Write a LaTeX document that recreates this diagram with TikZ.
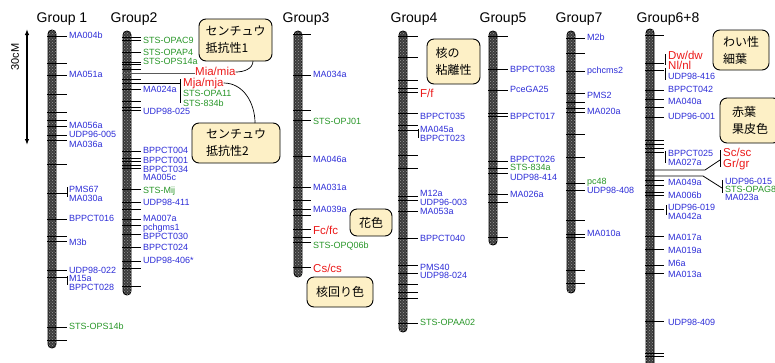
\documentclass[tikz,border=0pt]{standalone}
\usepackage{fontspec}
\setmainfont{Liberation Sans}
\newfontfamily\jp{Noto Sans CJK JP}
\usetikzlibrary{arrows.meta,patterns}
\definecolor{mblue}{RGB}{45,45,215}
\definecolor{mgreen}{RGB}{40,150,40}
\definecolor{mred}{RGB}{235,25,25}
\definecolor{cream}{RGB}{253,240,198}
\definecolor{chromfill}{RGB}{60,60,60}
\tikzset{
 chrom/.style={draw=black, fill=chromfill, line width=0.8pt, rounded corners=3.8pt},
 chromtex/.style={pattern=crosshatch dots, pattern color=gray!80, rounded corners=3.8pt},
 tick/.style={line width=0.8pt, black},
 mk/.style={anchor=west, inner sep=0pt, font=\fontsize{9}{9.5}\selectfont, text=mblue, text height=6pt, text depth=1.5pt},
 mkg/.style={mk, text=mgreen},
 trait/.style={anchor=west, inner sep=0pt, font=\fontsize{11.5}{12}\selectfont, text=mred, text height=8pt, text depth=2pt},
 grouptitle/.style={font=\fontsize{14}{15}\selectfont, inner sep=0pt},
 jbox/.style={draw=black, fill=cream, rounded corners=7pt, line width=0.9pt, font=\jp\fontsize{12}{17}\selectfont, align=left, inner sep=0pt},
 conn/.style={line width=0.7pt, black},
}
\newcommand{\chr}[3]{%
  \draw[chrom] (#1-4,#2) rectangle (#1+4,#3);
  \fill[chromtex] (#1-4,#2) rectangle (#1+4,#3);}
\begin{document}
\begin{tikzpicture}[x=1pt,y=-1pt]
\useasboundingbox (0,0) rectangle (775,362);

% scale bar
\draw[{Latex[length=6pt,width=4.5pt]}-{Latex[length=6pt,width=4.5pt]}, line width=1.3pt] (27,29) -- (27,145);
\node[rotate=90, font=\fontsize{11}{12}\selectfont, inner sep=0pt] (scale) at (15,57) {30cM};

% ===== Group 1 =====
\node[grouptitle] (t1) at (62,19) {Group 1};
\chr{52}{30}{348}
\foreach \y in {36,63,75,94,112,120,126,135,140,164,193,219,236,241,270,277,327,340}
  \draw[tick] (47,\y) -- (67,\y);
\draw[tick] (67,187) -- (67,197);
\draw[tick] (67,276) -- (67,285);
\foreach \y/\t in {36/MA004b,75/MA051a,126/MA056a,135/UDP96-005,145/MA036a,190/PMS67,199/MA030a,219/BPPCT016,243/M3b,271/UDP98-022,279/M15a,288/BPPCT028}
  \node[mk] (g1-\y) at (69,\y) {\t};
\node[mkg] (g1-327) at (69,327) {STS-OPS14b};

% ===== Group 2 =====
\node[grouptitle] (t2) at (134,19) {Group2};
\chr{127}{31}{295}
\foreach \y in {37,40,52,62,64,69,79,89,101,107,110,151,158,161,165,168,189,202,209,219,225,234,247,261,268,286}
  \draw[tick] (122,\y) -- (141,\y);
\draw[tick, gray!70!black] (122,73) -- (195,73);
\draw[tick] (122,83) -- (180,83);
\draw[tick] (180,79) -- (180,103);
\foreach \y/\t in {41/STS-OPAC9,53/STS-OPAP4,62/STS-OPS14a,191/STS-Mij}
  \node[mkg] (g2-\y) at (143,\y) {\t};
\foreach \y/\t in {90/MA024a,112/UDP98-025,151/BPPCT004,161/BPPCT001,170/BPPCT034,178/MA005c,203/UDP98-411,219/MA007a,228/pchgms1,237/BPPCT030,248/BPPCT024,261/UDP98-406*}
  \node[mk] (g2-\y) at (143,\y) {\t};
\node[trait] (mia) at (195,72) {Mia/mia};
\node[trait] (mja) at (183,83) {Mja/mja};
\node[mkg] (opa11) at (183,94) {STS-OPA11};
\node[mkg] (s834b) at (183,104) {STS-834b};
\node[jbox, minimum width=73pt, minimum height=42pt] (box1) at (235.5,40) {センチュウ\\抵抗性1};
\node[jbox, minimum width=88pt, minimum height=40pt] (box2) at (236,143) {センチュウ\\抵抗性2};
\coordinate (c1) at (253,61);
\coordinate (c2) at (255,123);
\draw[conn] (mia.east) to[out=0,in=-90] (c1);
\draw[conn] (mja.east) to[out=0,in=90] (c2);

% ===== Group 3 =====
\node[grouptitle] (t3) at (306,19) {Group3};
\chr{298}{31}{277}
\foreach \y in {34,75,110,120,156,187,200,209,215,229,237,242,267}
  \draw[tick] (293,\y) -- (311,\y);
\foreach \y/\t in {75/MA034a,160/MA046a,188/MA031a,210/MA039a}
  \node[mk] (g3-\y) at (313,\y) {\t};
\foreach \y/\t in {122/STS-OPJ01,246/STS-OPQ06b}
  \node[mkg] (g3-\y) at (313,\y) {\t};
\node[trait] (fc) at (313,231) {Fc/fc};
\node[trait] (cs) at (313,269) {Cs/cs};
\node[jbox, minimum width=42pt, minimum height=27pt] (box3) at (371,222.5) {花色};
\node[jbox, minimum width=66pt, minimum height=30pt] (box4) at (340,292) {核回り色};

% ===== Group 4 =====
\node[grouptitle] (t4) at (414,19) {Group4};
\chr{403}{31}{332}
\foreach \y in {36,57,80,88,92,113,125,130,155,168,196,200,211,238,265,273,284,292,298,323}
  \draw[tick] (398,\y) -- (418,\y);
\draw[tick] (418,129) -- (418,138);
\node[trait] (ff) at (420,94) {F/f};
\foreach \y/\t in {117/BPPCT035,130/MA045a,139/BPPCT023,194/M12a,203/UDP96-003,212/MA053a,239/BPPCT040,268/PMS40,276/UDP98-024}
  \node[mk] (g4-\y) at (420,\y) {\t};
\node[mkg] (g4-323) at (420,323) {STS-OPAA02};
\node[jbox, minimum width=53pt, minimum height=45pt] (box5) at (453.5,61.5) {核の\\粘離性};

% ===== Group 5 =====
\node[grouptitle] (t5) at (503,19) {Group5};
\chr{493}{31}{245}
\foreach \y in {36,69,90,113,116,161,168,173,194,202,237}
  \draw[tick] (488,\y) -- (508,\y);
\foreach \y/\t in {70/BPPCT038,90/PceGA25,117/BPPCT017,160/BPPCT026,178/UDP98-414,195/MA026a}
  \node[mk] (g5-\y) at (510,\y) {\t};
\node[mkg] (g5-168) at (510,168.7) {STS-834a};

% ===== Group 7 =====
\node[grouptitle] (t7) at (579,19) {Group7};
\chr{571}{31}{293}
\foreach \y in {38,53,71,93,102,108,112,134,157,183,190,220,234,237,270,283}
  \draw[tick] (566,\y) -- (585,\y);
\foreach \y/\t in {38/M2b,71/pchcms2,96/PMS2,112/MA020a,191/UDP98-408,234/MA010a}
  \node[mk] (g7-\y) at (587,\y) {\t};
\node[mkg] (g7-183) at (587,182) {pc48};

% ===== Group 6+8 =====
\node[grouptitle] (t68) at (668,19) {Group6+8};
\chr{650}{29}{375}
\foreach \y in {35,63,70,90,99,107,117,140,144,148,152,180,185,192,195,209,236,249,265,273,321,353,356}
  \draw[tick] (645,\y) -- (664,\y);
\draw[tick] (665,54) -- (665,65);
\draw[tick] (665,68) -- (665,80);
\draw[tick] (665,151) -- (665,163);
\draw[tick] (666,205) -- (666,215);
\draw[tick] (645,170) -- (705,170) -- (720,160);
\draw[tick] (720,150) -- (720,167);
\draw[tick] (645,176) -- (703,176) -- (722,188);
\draw[tick] (722,180) -- (722,193);
\node[trait] (dw) at (668,56) {Dw/dw};
\node[trait] (nl) at (668,66) {Nl/nl};
\foreach \y/\t in {77/UDP98-416,90/BPPCT042,102/MA040a,117/UDP96-001,154/BPPCT025,163/MA027a,183/MA049a,196/MA006b,208/UDP96-019,217/MA042a,238/MA017a,251/MA019a,264/M6a,275/MA013a,323/UDP98-409}
  \node[mk] (g68-\y) at (668,\y) {\t};
\node[trait] (sc) at (723,153) {Sc/sc};
\node[trait] (gr) at (723,164) {Gr/gr};
\node[mk] (u015) at (725,182) {UDP96-015};
\node[mkg] (opag8) at (725,190) {STS-OPAG8};
\node[mk] (ma023) at (725,198) {MA023a};
\node[jbox, minimum width=56pt, minimum height=40pt] (box6) at (741,50) {わい性\\細葉};
\node[jbox, minimum width=60pt, minimum height=45pt] (box7) at (750,120.5) {赤葉\\果皮色};
\end{tikzpicture}
\end{document}
